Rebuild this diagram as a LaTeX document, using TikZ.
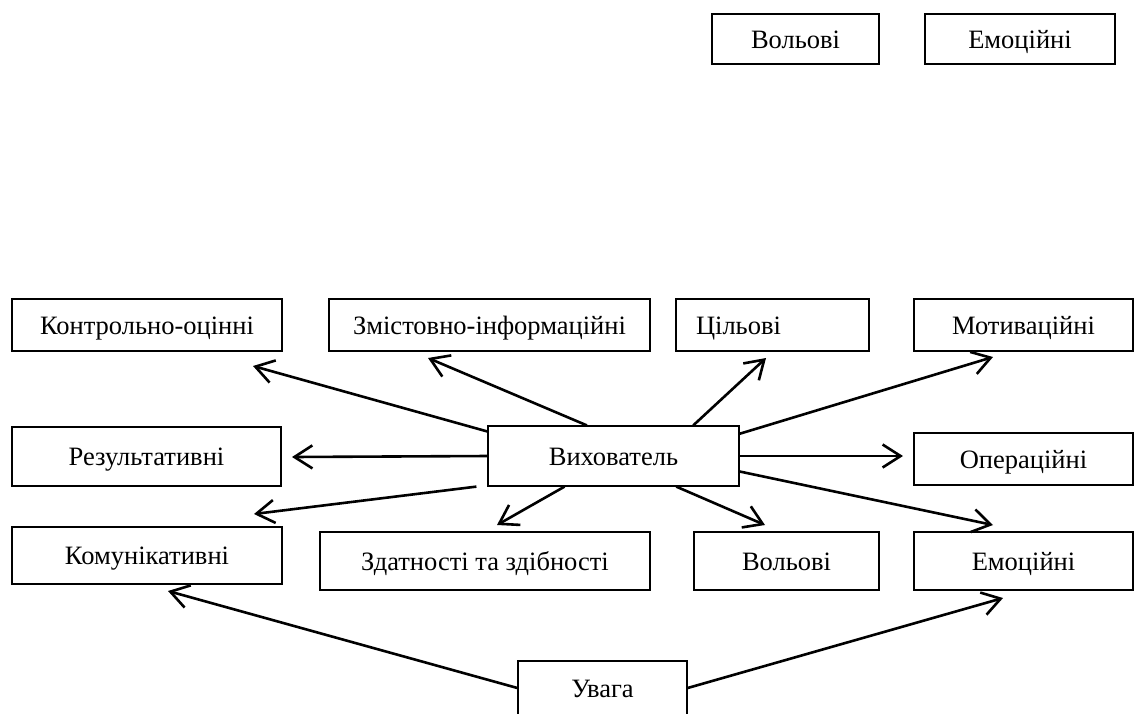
\documentclass[tikz,border=0pt]{standalone}
\usepackage{fontspec}
\setmainfont{Liberation Serif}
\usetikzlibrary{calc,arrows.meta}

\tikzset{
    box/.style={draw, line width=1.2pt, inner sep=0pt, text height=18pt, text depth=0pt, font=\fontsize{26.5}{31}\selectfont},
    arr/.style={line width=2.6pt, -{Straight Barb[length=18pt,width=23pt]}}
}

\begin{document}
\begin{tikzpicture}[x=1pt, y=-1pt]
        \useasboundingbox (0,0) rectangle (1135,713);
        \clip (0,0) rectangle (1135,713);
        % Draw top boxes
        \node[box, minimum width=167pt, minimum height=50pt] (topvol) at (795.5,39) {Вольові};
        \node[box, minimum width=190pt, minimum height=50pt] (topemo) at (1020,39) {Емоційні};
        % Draw upper row
        \node[box, minimum width=270pt, minimum height=52pt] (kontrol) at (147,325) {Контрольно-оцінні};
        \node[box, minimum width=321pt, minimum height=52pt] (zmist) at (489.5,325) {Змістовно-інформаційні};
        \node[box, text width=153pt, inner xsep=20pt, align=left, minimum height=52pt] (tsil) at (772.5,325) {Цільові};
        \node[box, minimum width=219pt, minimum height=52pt] (motiv) at (1023.5,325) {Мотиваційні};
        % Draw middle row
        \node[box, minimum width=269pt, minimum height=59pt] (result) at (146.5,456.5) {Результативні};
        \node[box, minimum width=251pt, minimum height=60pt] (vykh) at (613.5,456) {Вихователь};
        \node[box, minimum width=219pt, minimum height=52pt] (oper) at (1023.5,459) {Операційні};
        % Draw lower row
        \node[box, minimum width=270pt, minimum height=57pt] (komun) at (147,555.5) {Комунікативні};
        \node[box, minimum width=330pt, minimum height=58pt] (zdatn) at (485,561) {Здатності та здібності};
        \node[box, minimum width=185pt, minimum height=58pt] (vol) at (786.5,561) {Вольові};
        \node[box, minimum width=219pt, minimum height=58pt] (emo) at (1023.5,561) {Емоційні};
        \node[box, minimum width=169pt, minimum height=54pt] (uvaga) at (602.5,688) {Увага};
        % Arrow tips
        \coordinate (t1) at (253,366);
        \coordinate (t2) at (428,358);
        \coordinate (t3) at (766,358);
        \coordinate (t4) at (993,357);
        \coordinate (t5) at (903,456);
        \coordinate (t6) at (993,525);
        \coordinate (t7) at (765,525);
        \coordinate (t8) at (497,525);
        \coordinate (t9) at (254,514);
        \coordinate (t10) at (292,457);
        \coordinate (t11) at (168,591);
        \coordinate (t12) at (1003,598);
        % Draw arrows
        \foreach \a/\t in {169.6/t1, 131.5/t2, 21.9/t3, 10.4/t4, 0/t5, 353.2/t6, 334.4/t7, 212.3/t8, 180/t10} {
            \draw[arr] (vykh.\a) -- (\t);
        }
        \draw[arr] ($(vykh.south west)+(-11,0)$) -- (t9);
        \draw[arr] (uvaga.west) -- (t11);
        \draw[arr] (uvaga.east) -- (t12);
        \end{tikzpicture}
\end{document}
